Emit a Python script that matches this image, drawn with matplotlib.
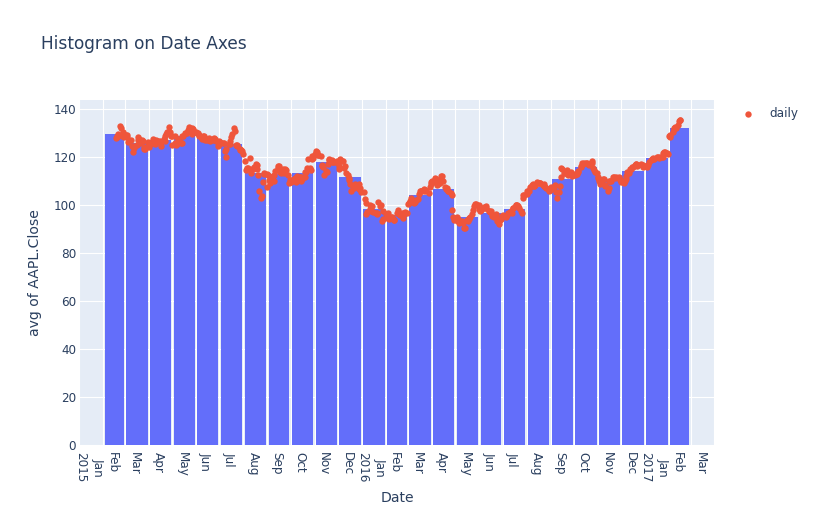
import pandas as pd
import matplotlib
matplotlib.use("Agg")
import matplotlib.pyplot as plt
import matplotlib.dates as mdates
from matplotlib.transforms import ScaledTranslation

plt.rcParams['font.family'] = ['DejaVu Sans']

# AAPL daily close, one line per month (trading days only)
close_2015 = [
    127.83, 128.72, 128.45, 129.50, 133.00, 132.17, 128.79, 130.42, 128.46,
    129.09, 129.36, 128.54, 126.41, 126.60, 127.14, 124.51, 122.24, 124.45, 123.59, 124.95,
    127.04, 128.47, 127.50, 125.90, 127.21, 126.69, 123.38, 124.24, 123.25, 126.37, 124.43,
    124.25, 125.32, 127.35, 126.01, 125.60, 126.56, 127.10, 126.85, 126.30, 126.78, 126.17,
    124.75, 127.60, 126.91, 128.62, 129.67, 130.28, 132.65, 130.56, 128.64, 125.15,
    128.95, 128.70, 125.80, 125.01, 125.26, 127.62, 126.32, 125.87, 126.01, 128.95, 128.77,
    130.19, 130.07, 130.06, 131.39, 132.54, 129.62, 132.05, 131.78, 130.28,
    130.54, 129.96, 130.12, 129.36, 128.65, 127.80, 127.42, 128.88, 128.59, 127.17, 126.92,
    127.60, 127.30, 127.88, 126.60, 127.61, 127.03, 128.11, 127.50, 126.75, 124.53, 125.43,
    126.60, 126.44, 126.00, 125.69, 122.57, 120.07, 123.28, 125.66, 125.61, 126.82, 128.51,
    129.62, 132.07, 130.75, 125.22, 125.16, 124.50, 122.77, 123.38, 122.99, 122.37, 121.30,
    118.44, 114.64, 115.40, 115.13, 115.52, 119.72, 113.49, 115.24, 115.15, 115.96, 117.16,
    116.50, 115.01, 112.65, 105.76, 103.12, 103.74, 109.69, 112.92, 113.29, 112.76,
    107.72, 112.34, 110.37, 109.27, 112.31, 110.15, 112.57, 114.21, 115.31, 116.28, 116.41,
    113.92, 113.45, 115.21, 113.40, 114.32, 115.00, 114.71, 112.44, 109.06, 110.30,
    109.58, 110.38, 110.78, 111.31, 110.78, 109.50, 112.12, 111.60, 111.79, 110.21, 111.86,
    111.04, 111.73, 113.77, 113.76, 115.50, 119.08, 115.28, 114.55, 119.27, 120.53, 119.50,
    121.18, 122.57, 122.00, 120.92, 121.06, 120.57, 116.77, 116.11, 115.72, 112.34,
    114.18, 113.69, 117.29, 118.78, 119.30, 117.75, 118.88, 118.03, 117.81, 118.30,
    117.34, 116.28, 115.20, 119.03, 118.28, 118.23, 115.62, 116.17, 113.18, 112.48, 110.49,
    111.34, 108.98, 106.03, 107.33, 107.23, 108.61, 108.03, 106.82, 108.74, 107.32, 105.26,
]
close_2016 = [
    105.35, 102.71, 100.70, 96.45, 96.96, 98.53, 99.96, 97.39, 99.52, 97.13,
    96.66, 96.79, 96.30, 101.42, 99.44, 99.99, 93.42, 94.09, 97.34,
    96.43, 94.48, 96.35, 96.60, 94.02, 95.01, 94.99, 94.27, 93.70, 93.99,
    96.64, 98.12, 96.26, 96.04, 96.88, 94.69, 96.10, 96.76, 96.91, 96.69,
    100.53, 100.75, 101.50, 103.01, 101.87, 101.03, 101.12, 101.17, 102.26, 102.52, 104.58,
    105.97, 105.80, 105.92, 105.91, 106.72, 106.13, 105.67, 105.19, 107.68, 109.56, 108.99,
    109.99, 111.12, 109.81, 110.96, 108.54, 108.66, 109.02, 110.44, 112.04, 112.10, 109.85,
    107.48, 106.91, 107.13, 105.97, 105.68, 105.08, 104.35, 97.82, 94.83, 93.74,
    93.64, 95.18, 94.19, 93.24, 92.72, 92.79, 93.42, 92.51, 90.34, 90.52, 93.88,
    93.49, 94.56, 94.20, 95.22, 96.43, 97.90, 99.62, 100.41, 100.35, 99.86,
    98.46, 97.72, 97.92, 98.63, 99.03, 98.94, 99.65, 98.83, 97.34, 97.46, 97.14,
    97.55, 95.33, 95.10, 95.91, 95.55, 96.10, 93.40, 92.04, 93.59, 94.40, 95.60,
    95.89, 94.99, 95.53, 95.94, 96.68, 96.98, 97.42, 96.87, 98.79, 98.78,
    99.83, 99.87, 99.96, 99.43, 98.66, 97.34, 96.67, 102.95, 104.34, 104.21,
    106.05, 104.48, 105.79, 105.87, 107.48, 108.37, 108.81, 108.00, 107.93, 108.18, 109.48, 109.38,
    109.22, 109.08, 109.36, 108.51, 108.85, 108.03, 107.57, 106.94, 106.82, 106.00, 106.10,
    106.73, 107.73, 107.70, 108.36, 105.52, 103.13, 105.44, 107.95, 111.77, 115.57, 114.92,
    113.58, 113.57, 113.55, 114.62, 112.71, 112.88, 113.09, 113.95, 112.18, 113.05,
    112.52, 113.00, 113.05, 113.89, 114.06, 116.05, 116.30, 117.34, 116.98, 117.63, 117.55,
    117.47, 117.12, 117.06, 116.60, 117.65, 118.25, 115.59, 114.48, 113.72, 113.54,
    111.49, 111.59, 109.83, 108.84, 110.41, 111.06, 110.88, 107.79, 108.43, 105.71, 107.11,
    109.99, 109.95, 110.06, 111.73, 111.80, 111.23, 111.79, 111.57, 111.46, 110.52,
    109.49, 109.90, 109.11, 109.95, 111.03, 112.12, 113.95, 113.30, 115.19, 115.19, 115.82,
    115.97, 116.64, 116.95, 117.06, 116.29, 116.52, 117.26, 116.76, 116.73, 115.82,
]
close_2017 = [
    116.15, 116.02, 116.61, 117.91, 118.99, 119.11, 119.75, 119.25, 119.04, 120.00,
    119.99, 119.78, 120.00, 120.08, 119.97, 121.88, 121.94, 121.95, 121.63, 121.35,
    128.75, 128.53, 129.08, 130.29, 131.53, 132.04, 132.42, 132.12, 133.29, 135.02,
    135.51, 135.35,
]
holidays = ['2015-04-03', '2015-05-25', '2015-07-03', '2015-09-07', '2015-11-26',
            '2015-12-25', '2016-01-01', '2016-01-18', '2016-02-15', '2016-03-25',
            '2016-05-30', '2016-07-04', '2016-09-05', '2016-11-24', '2016-12-26',
            '2017-01-02', '2017-01-16']

dates = pd.bdate_range('2015-02-17', '2017-02-16')
dates = dates[~dates.isin(pd.to_datetime(holidays))]
df = pd.DataFrame({'date': dates, 'close': close_2015 + close_2016 + close_2017})

# monthly bins, avg of close
monthly = df.groupby(df['date'].dt.to_period('M'))['close'].mean()
bar_x, bar_w = [], []
for p in monthly.index:
    start = mdates.date2num(p.start_time)
    end = mdates.date2num((p + 1).start_time)
    bar_x.append((start + end) / 2)
    bar_w.append((end - start) * 0.9)

text_col = '#2a3f5f'
fig = plt.figure(figsize=(8.13, 5.25), dpi=100)
ax = fig.add_axes([79.5 / 813, 1 - 445 / 525, 635 / 813, 345 / 525])
ax.set_facecolor('#E5ECF6')
for s in ax.spines.values():
    s.set_visible(False)

ax.bar(bar_x, monthly.values, width=bar_w, color='#636efa', zorder=2)
ax.scatter(mdates.date2num(df['date']), df['close'], s=21, color='#EF553B',
           linewidths=0, zorder=3, label='daily')

ax.set_xlim(mdates.date2num(pd.Timestamp('2015-01-01')), mdates.date2num(pd.Timestamp('2017-04-01')))
ax.set_ylim(0, 143.8)

# month grid + period labels in the middle of each month
months = pd.date_range('2015-01-01', '2017-04-01', freq='MS')
ax.set_xticks(mdates.date2num(months))
ax.set_xticklabels([])
mids, labels = [], []
for a, b in zip(months[:-1], months[1:]):
    mids.append((mdates.date2num(a) + mdates.date2num(b)) / 2)
    labels.append(a.strftime('%b') + ('\n%d' % a.year if a.month == 1 else ''))
ax.set_xticks(mids, minor=True)
ax.set_xticklabels(labels, minor=True, rotation=-90, ha='center', va='top',
                   fontsize=8.64, color=text_col, linespacing=1.4)
ax.tick_params(axis='x', which='both', length=0, pad=5)
for lbl in ax.get_xticklabels(minor=True):
    lbl.set_transform(lbl.get_transform() + ScaledTranslation(-0.024, 0, fig.dpi_scale_trans))

ax.set_yticks(range(0, 141, 20))
ax.tick_params(axis='y', length=0, pad=2.5, labelsize=8.64, labelcolor=text_col)
ax.grid(True, color='white', linewidth=0.8)
ax.set_axisbelow(True)

fig.text(41 / 813, 1 - 44 / 525, 'Histogram on Date Axes', fontsize=12.24,
         color=text_col, va='center', ha='left')
fig.text(35 / 813, 1 - 272.5 / 525, 'avg of AAPL.Close', fontsize=10.08,
         color=text_col, rotation=90, va='center', ha='center')
fig.text(397 / 813, 1 - 498.5 / 525, 'Date', fontsize=10.08, color=text_col,
         va='center', ha='center')

ax.legend(loc='upper left', bbox_to_anchor=(742 / 813, 1 - 107 / 525),
          bbox_transform=fig.transFigure, frameon=False, borderpad=0,
          borderaxespad=0, handlelength=1, handletextpad=1.25,
          prop={'size': 8.64}, labelcolor=text_col)

fig.savefig('out.png', dpi=100)
